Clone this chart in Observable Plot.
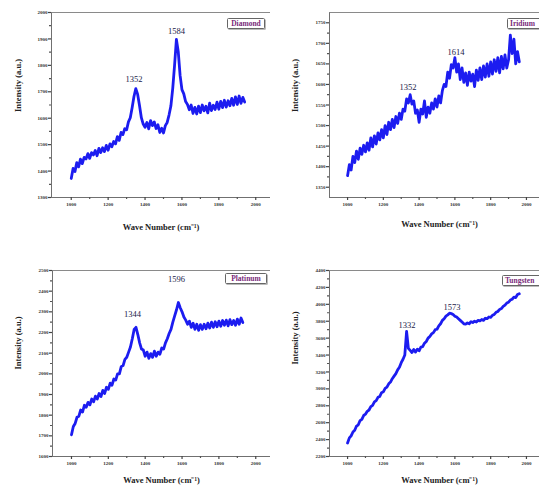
<!DOCTYPE html>
<html>
<head>
<meta charset="utf-8">
<script src="https://cdn.jsdelivr.net/npm/d3@7"></script>
<script src="https://cdn.jsdelivr.net/npm/@observablehq/plot@0.6"></script>
<style>
  html, body { margin: 0; padding: 0; background: #fff; overflow: hidden; }
  #wrap { position: relative; width: 539px; height: 495px; overflow: hidden; background: #fff; }
  .panel { position: absolute; }
  .box { position: absolute; box-sizing: border-box; border-top: 1.5px solid #8a8a8a; border-left: 1.3px solid #707070; border-bottom: 1.3px solid #707070; }
  .legend { position: absolute; box-sizing: border-box; border: 1px solid #666; border-radius: 1.5px; background: #fff;
            font-family: 'Liberation Serif', 'Times New Roman', serif; font-weight: bold; font-size: 7.5px; line-height: 9px;
            color: #7a2a7a; white-space: nowrap; padding: 0 2px; box-shadow: 1px 1px 0 #bbb; }
</style>
</head>
<body>
<div id="wrap"></div>
<script>
const waveNumbers = [1000,1010,1020,1030,1040,1050,1060,1070,1080,1090,1100,1110,1120,1130,1140,1150,1160,1170,1180,1190,
  1200,1210,1220,1230,1240,1250,1260,1270,1280,1290,1300,1310,1320,1330,1340,1350,1360,1370,1380,1390,
  1400,1410,1420,1430,1440,1450,1460,1470,1480,1490,1500,1510,1520,1530,1540,1550,1560,1570,1580,1590,
  1600,1610,1620,1630,1640,1650,1660,1670,1680,1690,1700,1710,1720,1730,1740,1750,1760,1770,1780,1790,
  1800,1810,1820,1830,1840,1850,1860,1870,1880,1890,1900,1910,1920,1930,1940,1950,1960];

const diamond = [1372,1410,1398,1432,1416,1445,1428,1452,1446,1466,1448,1470,1461,1478,1458,1486,1470,1488,1474,1497,
  1479,1503,1492,1512,1503,1530,1516,1546,1538,1560,1556,1586,1602,1640,1682,1712,1690,1648,1602,1578,
  1566,1584,1560,1591,1572,1586,1561,1575,1546,1562,1544,1572,1584,1612,1646,1712,1800,1898,1852,1762,
  1708,1692,1663,1652,1632,1650,1618,1641,1616,1646,1621,1650,1628,1645,1620,1657,1629,1649,1633,1661,
  1634,1664,1640,1668,1642,1666,1647,1675,1649,1681,1652,1684,1656,1679,1661];

const iridium = [1378,1405,1392,1425,1410,1438,1418,1445,1430,1452,1436,1458,1440,1470,1448,1475,1455,1482,1465,1490,
  1470,1500,1478,1508,1490,1515,1495,1522,1505,1530,1515,1540,1535,1565,1555,1575,1552,1560,1530,1538,
  1508,1540,1528,1560,1520,1545,1530,1555,1540,1565,1545,1572,1555,1585,1600,1595,1630,1615,1648,1640,
  1665,1630,1650,1612,1640,1605,1628,1598,1630,1608,1625,1595,1635,1610,1640,1612,1645,1618,1650,1620,
  1655,1625,1660,1632,1665,1628,1668,1638,1672,1640,1660,1720,1675,1710,1650,1680,1655];

const platinum = [1705,1745,1760,1790,1795,1825,1815,1848,1838,1862,1850,1878,1865,1892,1878,1905,1890,1920,1905,1935,
  1925,1955,1945,1975,1970,2000,2000,2035,2040,2070,2080,2105,2130,2170,2215,2225,2190,2150,2120,2115,
  2085,2105,2075,2098,2080,2110,2085,2105,2095,2125,2120,2150,2170,2195,2215,2250,2280,2310,2345,2320,
  2300,2275,2260,2240,2255,2225,2245,2215,2240,2210,2238,2215,2240,2218,2245,2222,2250,2225,2252,2228,
  2255,2230,2258,2235,2260,2232,2262,2238,2258,2235,2265,2240,2270,2248];

const tungsten = [2360,2420,2445,2490,2510,2560,2575,2625,2640,2685,2700,2735,2750,2790,2805,2845,2860,2900,2910,2955,
  2965,3005,3020,3060,3080,3120,3150,3180,3225,3255,3310,3350,3400,3680,3480,3455,3430,3465,3435,3470,
  3450,3495,3500,3540,3560,3600,3620,3650,3665,3700,3705,3745,3770,3810,3830,3860,3875,3895,3890,3880,
  3860,3850,3830,3810,3790,3770,3765,3780,3770,3795,3785,3800,3790,3810,3805,3820,3810,3835,3830,3850,
  3845,3870,3880,3905,3915,3940,3950,3975,3990,4015,4025,4050,4060,4085,4080,4115,4125];

const sampleNames = ["Diamond", "Iridium", "Platinum", "Tungsten"];

const xTicks = [1000,1200,1400,1600,1800,2000];
const xMinorTicks = [1100,1300,1500,1700,1900];

const diamondYTicks = [1300,1400,1500,1600,1700,1800,1900,2000];
const diamondYMinor = [1350,1450,1550,1650,1750,1850,1950];
const iridiumYTicks = [1350,1400,1450,1500,1550,1600,1650,1700,1750];
const iridiumYMinor = [1375,1425,1475,1525,1575,1625,1675,1725];
const platinumYTicks = [1600,1700,1800,1900,2000,2100,2200,2300,2400,2500];
const platinumYMinor = [1650,1750,1850,1950,2050,2150,2250,2350,2450];
const tungstenYTicks = [2200,2400,2600,2800,3000,3200,3400,3600,3800,4000,4200,4400];
const tungstenYMinor = [2300,2500,2700,2900,3100,3300,3500,3700,3900,4100,4300];

const diamondPeaks = [{label: "1352", x: 1340, y: 1748}, {label: "1584", x: 1570, y: 1930}];
const iridiumPeaks = [{label: "1352", x: 1338, y: 1594}, {label: "1614", x: 1606, y: 1678}];
const platinumPeaks = [{label: "1344", x: 1331, y: 2290}, {label: "1596", x: 1570, y: 2459}];
const tungstenPeaks = [{label: "1332", x: 1332, y: 3750}, {label: "1573", x: 1584, y: 3967}];

const xTitle = "Wave Number (cm\u207B\u00B9)";
const yTitle = "Intensity (a.u.)";

const panels = [
  {name: sampleNames[0], values: diamond, yTicks: diamondYTicks, yMinor: diamondYMinor, yDomain: [1300, 2000], xDomain: [893, 2080], peaks: diamondPeaks,
   left: 0, top: 0, width: 270, height: 245, mL: 51, mT: 12, mB: 48, titleDy: 30, titleDx: 0, yLabDx: -33, yLabDy: 7,
   leg: {left: 227, top: 18, width: 38, align: "center"}},
  {name: sampleNames[1], values: iridium, yTicks: iridiumYTicks, yMinor: iridiumYMinor, yDomain: [1325, 1775], xDomain: [899, 2073], peaks: iridiumPeaks,
   left: 270, top: 0, width: 269, height: 245, mL: 59, mT: 12, mB: 48, titleDy: 27, titleDx: 5, yLabDx: -34, yLabDy: 7,
   leg: {left: 507, top: 18, width: 40, align: "left"}},
  {name: sampleNames[2], values: platinum, yTicks: platinumYTicks, yMinor: platinumYMinor, yDomain: [1600, 2500], xDomain: [897, 2080], peaks: platinumPeaks,
   left: 0, top: 250, width: 270, height: 245, mL: 52, mT: 20, mB: 39, titleDy: 24, titleDx: 0, yLabDx: -34, yLabDy: 6,
   leg: {left: 225, top: 273, width: 42, align: "center"}},
  {name: sampleNames[3], values: tungsten, yTicks: tungstenYTicks, yMinor: tungstenYMinor, yDomain: [2200, 4400], xDomain: [899, 2073], peaks: tungstenPeaks,
   left: 270, top: 250, width: 269, height: 245, mL: 59, mT: 20, mB: 39, titleDy: 24, titleDx: 5, yLabDx: -34, yLabDy: 1,
   leg: {left: 502, top: 275, width: 44, align: "left"}}
];

const serif = "'Liberation Serif', 'Times New Roman', serif";
const wrap = document.getElementById("wrap");

for (const p of panels) {
  // plot-area box (axis lines), drawn behind the transparent SVG
  const box = document.createElement("div");
  box.className = "box";
  box.style.left = (p.left + p.mL) + "px";
  box.style.top = (p.top + p.mT) + "px";
  box.style.width = (p.width - p.mL) + "px";
  box.style.height = (p.height - p.mT - p.mB + 1) + "px";
  wrap.appendChild(box);

  const rows = p.values.map((v, i) => ({x: waveNumbers[i], y: v}));
  const fmt = d => String(d);
  const chart = Plot.plot({
    width: p.width,
    height: p.height,
    marginLeft: p.mL,
    marginRight: 0,
    marginTop: p.mT,
    marginBottom: p.mB,
    style: {fontFamily: serif, fontSize: "5px", background: "transparent"},
    x: {domain: p.xDomain, label: null, axis: null},
    y: {domain: p.yDomain, label: null, axis: null},
    marks: [
      Plot.line(rows, {x: "x", y: "y", stroke: "#1c1cf0", strokeWidth: 2.8}),
      Plot.text(p.peaks, {x: "x", y: "y", text: "label", fontSize: 8.5, fill: "#1a1a4a", fontFamily: serif}),
      Plot.text([xTitle], {frameAnchor: "bottom", dy: p.titleDy, dx: p.titleDx, fontSize: 8.5, fontWeight: "bold", fill: "#222", fontFamily: serif, lineAnchor: "middle"}),
      Plot.text([yTitle], {frameAnchor: "left", dx: p.yLabDx, dy: p.yLabDy, rotate: -90, fontSize: 8.5, fontWeight: "bold", fill: "#222", fontFamily: serif, lineAnchor: "middle"}),
      Plot.axisY(p.yTicks, {tickSize: 3, tickPadding: 1, tickFormat: fmt, stroke: "#444", strokeWidth: 1.2, fill: "#333", fontWeight: "bold"}),
      Plot.axisY(p.yMinor, {tickSize: 2, tickFormat: () => "", stroke: "#555", strokeWidth: 1.2}),
      Plot.axisX(xTicks, {tickSize: 3, tickPadding: 2, tickFormat: fmt, stroke: "#444", strokeWidth: 1.2, fill: "#333", fontWeight: "bold"}),
      Plot.axisX(xMinorTicks, {tickSize: 2, tickFormat: () => "", stroke: "#555", strokeWidth: 1.2})
    ]
  });
  chart.classList.add("panel");
  chart.style.left = p.left + "px";
  chart.style.top = p.top + "px";
  wrap.appendChild(chart);

  const leg = document.createElement("div");
  leg.className = "legend";
  leg.textContent = p.name;
  leg.style.left = p.leg.left + "px";
  leg.style.top = p.leg.top + "px";
  leg.style.width = p.leg.width + "px";
  leg.style.height = "11px";
  leg.style.textAlign = p.leg.align;
  wrap.appendChild(leg);
}
</script>
</body>
</html>
